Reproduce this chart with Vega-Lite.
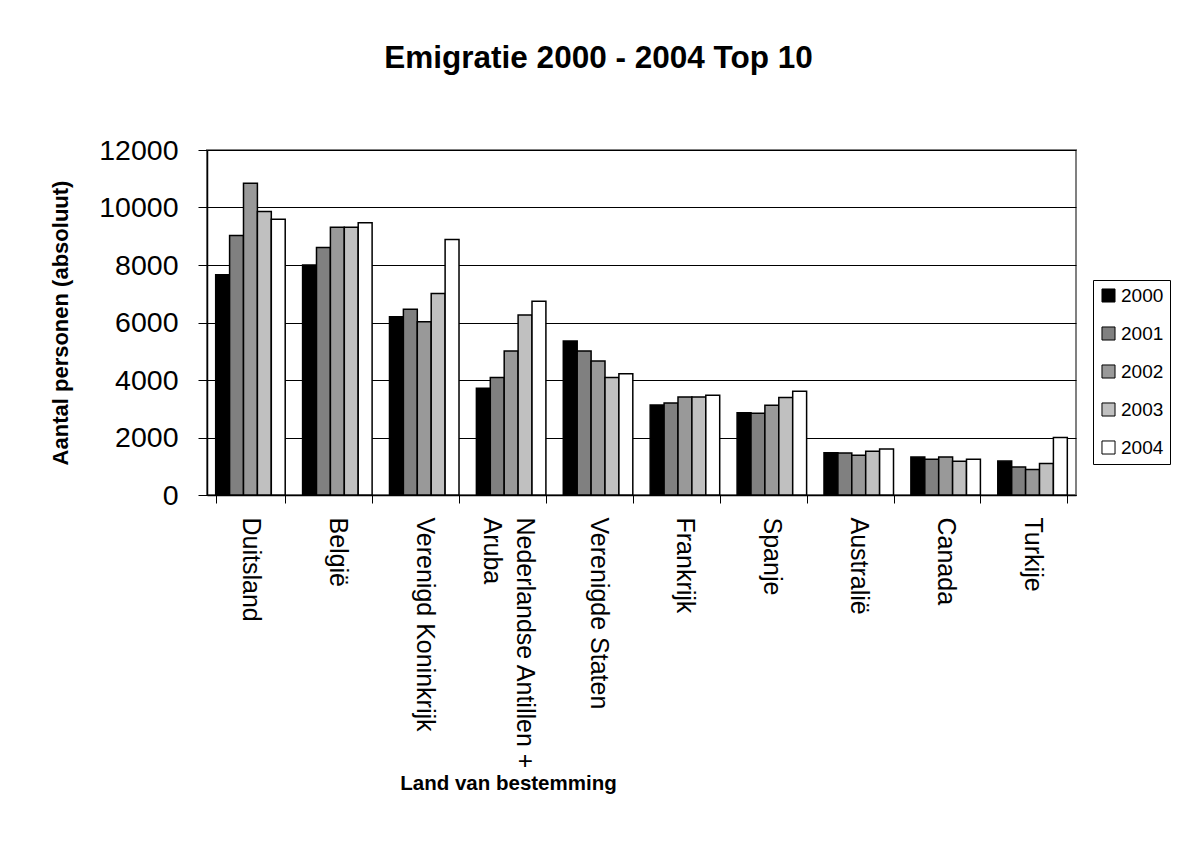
{
  "$schema": "https://vega.github.io/schema/vega-lite/v6.json",
  "width": 869,
  "height": 345,
  "autosize": {"type": "none"},
  "padding": {"left": 207, "top": 150, "right": 110, "bottom": 367},
  "background": "white",
  "title": {
    "text": "Emigratie 2000 - 2004 Top 10",
    "font": "Liberation Sans",
    "fontSize": 31.5,
    "fontWeight": "bold",
    "color": "black",
    "frame": "group",
    "anchor": "middle",
    "dx": -43,
    "offset": 62
  },
  "config": {
    "font": "Liberation Sans",
    "view": {"stroke": "#808080", "strokeWidth": 2},
    "axis": {"labelColor": "black", "titleColor": "black", "domainColor": "black", "tickColor": "black"}
  },
  "data": {
    "values": [
      {"land": "Duitsland", "jaar": "2000", "aantal": 7660},
      {"land": "Duitsland", "jaar": "2001", "aantal": 9030},
      {"land": "Duitsland", "jaar": "2002", "aantal": 10840},
      {"land": "Duitsland", "jaar": "2003", "aantal": 9860},
      {"land": "Duitsland", "jaar": "2004", "aantal": 9590},
      {"land": "België", "jaar": "2000", "aantal": 8000},
      {"land": "België", "jaar": "2001", "aantal": 8610},
      {"land": "België", "jaar": "2002", "aantal": 9310},
      {"land": "België", "jaar": "2003", "aantal": 9310},
      {"land": "België", "jaar": "2004", "aantal": 9470},
      {"land": "Verenigd Koninkrijk", "jaar": "2000", "aantal": 6200},
      {"land": "Verenigd Koninkrijk", "jaar": "2001", "aantal": 6460},
      {"land": "Verenigd Koninkrijk", "jaar": "2002", "aantal": 6030},
      {"land": "Verenigd Koninkrijk", "jaar": "2003", "aantal": 7010},
      {"land": "Verenigd Koninkrijk", "jaar": "2004", "aantal": 8890},
      {"land": "Nederlandse Antillen + Aruba", "jaar": "2000", "aantal": 3710},
      {"land": "Nederlandse Antillen + Aruba", "jaar": "2001", "aantal": 4090},
      {"land": "Nederlandse Antillen + Aruba", "jaar": "2002", "aantal": 5010},
      {"land": "Nederlandse Antillen + Aruba", "jaar": "2003", "aantal": 6260},
      {"land": "Nederlandse Antillen + Aruba", "jaar": "2004", "aantal": 6740},
      {"land": "Verenigde Staten", "jaar": "2000", "aantal": 5360},
      {"land": "Verenigde Staten", "jaar": "2001", "aantal": 5010},
      {"land": "Verenigde Staten", "jaar": "2002", "aantal": 4660},
      {"land": "Verenigde Staten", "jaar": "2003", "aantal": 4090},
      {"land": "Verenigde Staten", "jaar": "2004", "aantal": 4220},
      {"land": "Frankrijk", "jaar": "2000", "aantal": 3130},
      {"land": "Frankrijk", "jaar": "2001", "aantal": 3200},
      {"land": "Frankrijk", "jaar": "2002", "aantal": 3410},
      {"land": "Frankrijk", "jaar": "2003", "aantal": 3410},
      {"land": "Frankrijk", "jaar": "2004", "aantal": 3470},
      {"land": "Spanje", "jaar": "2000", "aantal": 2860},
      {"land": "Spanje", "jaar": "2001", "aantal": 2840},
      {"land": "Spanje", "jaar": "2002", "aantal": 3120},
      {"land": "Spanje", "jaar": "2003", "aantal": 3390},
      {"land": "Spanje", "jaar": "2004", "aantal": 3610},
      {"land": "Australië", "jaar": "2000", "aantal": 1470},
      {"land": "Australië", "jaar": "2001", "aantal": 1460},
      {"land": "Australië", "jaar": "2002", "aantal": 1380},
      {"land": "Australië", "jaar": "2003", "aantal": 1520},
      {"land": "Australië", "jaar": "2004", "aantal": 1600},
      {"land": "Canada", "jaar": "2000", "aantal": 1320},
      {"land": "Canada", "jaar": "2001", "aantal": 1240},
      {"land": "Canada", "jaar": "2002", "aantal": 1320},
      {"land": "Canada", "jaar": "2003", "aantal": 1170},
      {"land": "Canada", "jaar": "2004", "aantal": 1240},
      {"land": "Turkije", "jaar": "2000", "aantal": 1180},
      {"land": "Turkije", "jaar": "2001", "aantal": 970},
      {"land": "Turkije", "jaar": "2002", "aantal": 890},
      {"land": "Turkije", "jaar": "2003", "aantal": 1100},
      {"land": "Turkije", "jaar": "2004", "aantal": 2000}
    ]
  },
  "mark": {"type": "bar", "stroke": "black", "strokeWidth": 1.5},
  "encoding": {
    "x": {
      "field": "land",
      "type": "nominal",
      "sort": null,
      "scale": {"paddingInner": 0.2, "paddingOuter": 0.1},
      "axis": {
        "title": "Land van bestemming",
        "titleFontSize": 20.5,
        "titleFontWeight": "bold",
        "titleX": 301,
        "titleY": 288,
        "titleBaseline": "middle",
        "labelAngle": 90,
        "labelFontSize": 25,
        "labelPadding": 14,
        "labelLineHeight": 33,
        "labelLimit": 0,
        "labelExpr": "datum.label == 'Nederlandse Antillen + Aruba' ? ['Nederlandse Antillen +', '\u2002\u2002\u2002\u2002\u2002\u2002\u2002Aruba'] : datum.label",
        "labelBaseline": {"condition": {"test": "datum.value == 'Nederlandse Antillen + Aruba'", "value": "bottom"}, "value": "middle"},
        "tickSize": 8,
        "tickBand": "extent",
        "domainWidth": 1.5,
        "labelOverlap": false
      }
    },
    "xOffset": {"field": "jaar", "type": "nominal", "sort": ["2000", "2001", "2002", "2003", "2004"]},
    "y": {
      "field": "aantal",
      "type": "quantitative",
      "scale": {"domain": [0, 12000], "nice": false},
      "axis": {
        "title": "Aantal personen (absoluut)",
        "titleFontSize": 22,
        "titleFontWeight": "bold",
        "titlePadding": 26,
        "values": [0, 2000, 4000, 6000, 8000, 10000, 12000],
        "format": "d",
        "labelFontSize": 28.5,
        "labelPadding": 20,
        "tickSize": 9,
        "grid": true,
        "gridColor": "black",
        "gridWidth": 1,
        "gridOpacity": 1,
        "domainWidth": 1.5
      }
    },
    "fill": {
      "field": "jaar",
      "type": "nominal",
      "scale": {"domain": ["2000", "2001", "2002", "2003", "2004"], "range": ["#000000", "#808080", "#999999", "#c0c0c0", "#ffffff"]},
      "legend": {
        "title": null,
        "orient": "none",
        "legendX": 886,
        "legendY": 130,
        "strokeColor": "black",
        "padding": 6,
        "symbolType": "square",
        "symbolSize": 170,
        "symbolStrokeColor": "black",
        "symbolStrokeWidth": 1,
        "labelFontSize": 19,
        "labelColor": "black",
        "labelOffset": 3,
        "rowPadding": 18
      }
    }
  }
}
